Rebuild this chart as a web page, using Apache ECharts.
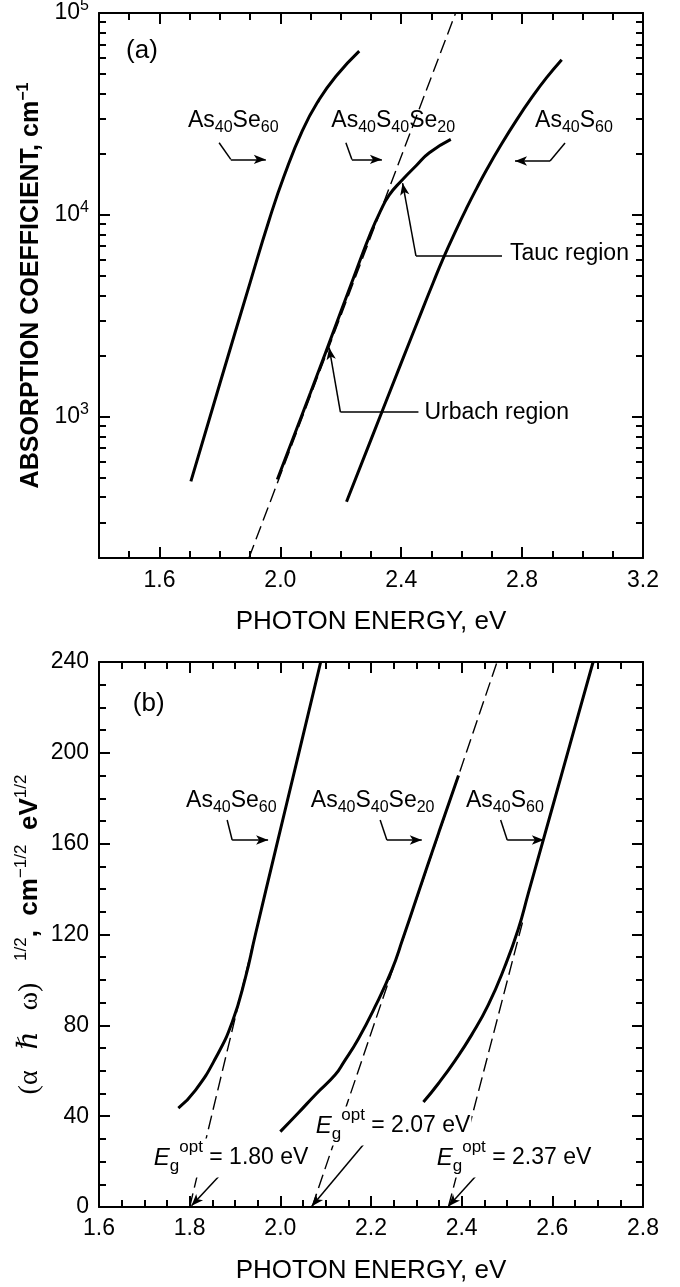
<!DOCTYPE html>
<html><head><meta charset="utf-8">
<script src="https://cdn.jsdelivr.net/npm/echarts@6/dist/echarts.min.js"></script>
<style>html,body{margin:0;padding:0;background:#fff}#c{width:680px;height:1287px}</style>
</head><body><div id="c"></div>
<script>
// ================= DATA =================
// Panel (a): absorption coefficient (cm^-1) vs photon energy (eV), log scale
const aXTickValues = [1.6, 2.0, 2.4, 2.8, 3.2];
const aYDecades = [1000, 10000, 100000];
const aYMinorTicks = [300, 400, 500, 600, 700, 800, 900,
  2000, 3000, 4000, 5000, 6000, 7000, 8000, 9000,
  20000, 30000, 40000, 50000, 60000, 70000, 80000, 90000];

const aSe60E     = [1.704, 1.80, 1.90, 1.963, 2.013, 2.073, 2.128, 2.184, 2.261];
const aSe60Alpha = [479, 1462, 4624, 9441, 15670, 26180, 37150, 48640, 64710];

const aSSeE     = [1.990, 2.10, 2.20, 2.25, 2.30, 2.33, 2.36, 2.40, 2.45, 2.493, 2.564];
const aSSeAlpha = [490, 1320, 3310, 5250, 8220, 10350, 12530, 14720, 17580, 20320, 23660];

const aS60E     = [2.219, 2.30, 2.40, 2.468, 2.506, 2.539, 2.583, 2.617, 2.650, 2.683, 2.727, 2.782, 2.837, 2.881, 2.931];
const aS60Alpha = [380, 771, 1850, 3340, 4630, 6100, 8510, 10860, 13580, 16790, 21830, 29580, 39080, 47860, 58750];

const aDashE     = [1.896, 2.58];
const aDashAlpha = [200, 100000];

// Panel (b): (alpha*hbar*omega)^1/2 vs photon energy
const bSe60E = [1.775, 1.813, 1.857, 1.894, 1.923, 1.945, 1.99, 2.04, 2.089];
const bSe60Y = [43.5, 51.5, 65.5, 81.5, 101, 120, 157.7, 199.2, 240];

const bSSeE = [2.000, 2.04, 2.08, 2.121, 2.14, 2.172, 2.209, 2.246, 2.27, 2.30, 2.35, 2.393];
const bSSeY = [33.2, 41.5, 50, 58.2, 63.8, 74, 88.2, 104.4, 118, 135.7, 165.2, 190];

const bS60E = [2.3156, 2.3487, 2.3854, 2.422, 2.4587, 2.4954, 2.5248, 2.5468, 2.5833, 2.6202, 2.6569, 2.6899];
const bS60Y = [46.2, 54.4, 64.5, 75.8, 89, 106, 122.3, 138, 164, 190.3, 216.5, 240];

const bDashSe60E = [1.80, 1.94],   bDashSe60Y = [0, 116.2];
const bDashSSeE  = [2.07, 2.478],  bDashSSeY  = [0, 240];
const bDashS60E  = [2.3707, 2.535], bDashS60Y = [0, 126];

const bEgLabels = ['1.80', '2.07', '2.37'];

// ================= CHART =================
const FONT = "'Liberation Sans', Arial, Helvetica, sans-serif";
const SERIF = "'Liberation Serif', 'DejaVu Serif', 'Times New Roman', serif";
const K = '#000';
const zip = (xs, ys) => xs.map((x, i) => [x, ys[i]]);

const rich = {
  m: {fontSize: 23, fontFamily: FONT, color: K, verticalAlign: 'middle'},
  s: {fontSize: 16, fontFamily: FONT, color: K, verticalAlign: 'middle', padding: [14, 0, 0, 0]},
  big: {fontSize: 26, fontFamily: FONT, color: K, verticalAlign: 'middle'},
  e: {fontSize: 24, fontFamily: FONT, fontStyle: 'italic', color: K, verticalAlign: 'middle'},
  g: {fontSize: 17, fontFamily: FONT, color: K, verticalAlign: 'middle', padding: [17, 0, 0, 0]},
  o: {fontSize: 17, fontFamily: FONT, color: K, verticalAlign: 'middle', padding: [0, 0, 22, 0]}
};
const txt = (coord, text, bg) => ({
  coord, symbol: 'circle', symbolSize: 1, itemStyle: {color: 'rgba(0,0,0,0)'},
  label: {show: true, position: 'right', distance: 0, formatter: text, rich,
    backgroundColor: bg ? '#fff' : 'transparent', padding: bg ? [0, 1, 0, 1] : 0}
});
const seg = (p1, p2, arrow) => [{coord: p1, symbol: 'none'}, {coord: p2, symbol: arrow ? 'arrow' : 'none'}];

const MAJ = 11, MIN = 7;
const tickLine = {color: K, width: 2};
const minorLine = {color: K, width: 2};
const axisLine = {show: true, onZero: false, lineStyle: {color: K, width: 2}};
const noLine = {show: false, onZero: false};
const labelBase = {show: true, color: K, fontFamily: FONT, fontSize: 23};
const yMinorLog = aYMinorTicks.map(v => Math.log10(v));
const aYMin = 200, aYMax = 100000;

const xAxis = [
  // grid 0 : panel (a) major ticks
  {type: 'value', gridIndex: 0, position: 'bottom', min: 1.4, max: 3.2,
   axisLine, splitLine: {show: false},
   axisTick: {show: true, inside: true, length: MAJ, customValues: aXTickValues, lineStyle: tickLine},
   axisLabel: Object.assign({}, labelBase, {customValues: aXTickValues, margin: 11, formatter: v => v.toFixed(1)}),
   name: 'PHOTON ENERGY, eV', nameLocation: 'middle', nameGap: 51, nameMoveOverlap: false,
   nameTextStyle: {fontSize: 26, fontFamily: FONT, color: K}},
  {type: 'value', gridIndex: 0, position: 'top', min: 1.4, max: 3.2,
   axisLine, splitLine: {show: false}, axisLabel: {show: false},
   axisTick: {show: true, inside: true, length: MAJ, customValues: aXTickValues, lineStyle: tickLine}},
  // grid 2 : panel (a) minor ticks (overlay)
  {type: 'value', gridIndex: 2, position: 'bottom', min: 1.4, max: 3.2, interval: 0.1,
   axisLine: noLine, splitLine: {show: false}, axisLabel: {show: false},
   axisTick: {show: true, inside: true, length: MIN, lineStyle: minorLine}},
  {type: 'value', gridIndex: 2, position: 'top', min: 1.4, max: 3.2, interval: 0.1,
   axisLine: noLine, splitLine: {show: false}, axisLabel: {show: false},
   axisTick: {show: true, inside: true, length: MIN, lineStyle: minorLine}},
  // grid 1 : panel (b)
  {type: 'value', gridIndex: 1, position: 'bottom', min: 1.6, max: 2.8, interval: 0.2,
   axisLine, splitLine: {show: false},
   axisTick: {show: true, inside: true, length: MAJ, lineStyle: tickLine},
   minorTick: {show: true, splitNumber: 4, length: MIN, lineStyle: minorLine},
   axisLabel: Object.assign({}, labelBase, {margin: 10, formatter: v => v.toFixed(1)}),
   name: 'PHOTON ENERGY, eV', nameLocation: 'middle', nameGap: 51, nameMoveOverlap: false,
   nameTextStyle: {fontSize: 26, fontFamily: FONT, color: K}},
  {type: 'value', gridIndex: 1, position: 'top', min: 1.6, max: 2.8, interval: 0.2,
   axisLine, splitLine: {show: false}, axisLabel: {show: false},
   axisTick: {show: true, inside: true, length: MAJ, lineStyle: tickLine},
   minorTick: {show: true, splitNumber: 4, length: MIN, lineStyle: minorLine}}
];

const decadeFmt = v => {
  const e = Math.log10(v), r = Math.round(e);
  return (Math.abs(e - r) < 1e-6 && aYDecades.indexOf(Math.pow(10, r)) >= 0) ? '10{sup|' + r + '}' : '';
};

const yAxis = [
  // grid 0
  {type: 'log', logBase: 10, gridIndex: 0, position: 'left', min: aYMin, max: aYMax,
   axisLine, splitLine: {show: false},
   axisTick: {show: true, inside: true, length: MAJ, lineStyle: tickLine},
   axisLabel: Object.assign({}, labelBase, {margin: 10, formatter: decadeFmt,
     rich: {sup: {fontSize: 16, fontFamily: FONT, color: K, verticalAlign: 'middle', padding: [0, 0, 14, 0]}}}),
   name: 'ABSORPTION COEFFICIENT, cm{sup|\u22121}', nameLocation: 'middle', nameGap: 52, nameMoveOverlap: false,
   nameTextStyle: {fontSize: 25, fontWeight: 'bold', fontFamily: FONT, color: K,
     rich: {sup: {fontSize: 16, fontWeight: 'bold', fontFamily: FONT, color: K, verticalAlign: 'middle', padding: [0, 0, 15, 0]}}}},
  {type: 'log', logBase: 10, gridIndex: 0, position: 'right', min: aYMin, max: aYMax,
   axisLine, splitLine: {show: false}, axisLabel: {show: false},
   axisTick: {show: true, inside: true, length: MAJ, lineStyle: tickLine}},
  // grid 2 (minor log ticks, in log10 units)
  {type: 'value', gridIndex: 2, position: 'left', min: Math.log10(aYMin), max: Math.log10(aYMax),
   axisLine: noLine, splitLine: {show: false}, axisLabel: {show: false},
   axisTick: {show: true, inside: true, length: MIN, customValues: yMinorLog, lineStyle: minorLine}},
  {type: 'value', gridIndex: 2, position: 'right', min: Math.log10(aYMin), max: Math.log10(aYMax),
   axisLine: noLine, splitLine: {show: false}, axisLabel: {show: false},
   axisTick: {show: true, inside: true, length: MIN, customValues: yMinorLog, lineStyle: minorLine}},
  // grid 1
  {type: 'value', gridIndex: 1, position: 'left', min: 0, max: 240, interval: 40,
   axisLine, splitLine: {show: false},
   axisTick: {show: true, inside: true, length: MAJ, lineStyle: tickLine},
   minorTick: {show: true, splitNumber: 4, length: MIN, lineStyle: minorLine},
   axisLabel: Object.assign({}, labelBase, {margin: 10}),
   name: '{g|(\u03B1   \u210F   \u03C9)}   {sup|1/2}{b|,  cm}{sup|\u22121/2}{b|  eV}{sup|1/2}',
   nameLocation: 'middle', nameGap: 53, nameMoveOverlap: false,
   nameTextStyle: {fontSize: 26, fontWeight: 'bold', fontFamily: FONT, color: K,
     rich: {
       g: {fontSize: 28, fontWeight: 'normal', fontFamily: SERIF, color: K, verticalAlign: 'middle'},
       b: {fontSize: 26, fontWeight: 'bold', fontFamily: FONT, color: K, verticalAlign: 'middle'},
       sup: {fontSize: 17, fontWeight: 'normal', fontFamily: FONT, color: K, verticalAlign: 'middle', padding: [0, 0, 16, 0]}
     }}},
  {type: 'value', gridIndex: 1, position: 'right', min: 0, max: 240, interval: 40,
   axisLine, splitLine: {show: false}, axisLabel: {show: false},
   axisTick: {show: true, inside: true, length: MAJ, lineStyle: tickLine},
   minorTick: {show: true, splitNumber: 4, length: MIN, lineStyle: minorLine}}
];

const solid = {color: K, width: 3};
const dashed = {color: K, width: 1.4, type: [14, 6]};
const markLineBase = {silent: true, animation: false, symbol: ['none', 'arrow'], symbolSize: [7, 12],
  lineStyle: {color: K, width: 1.5, type: 'solid'}, label: {show: false}, emphasis: {disabled: true}};
const curve = (xi, yi, xs, ys) => ({type: 'line', xAxisIndex: xi, yAxisIndex: yi, data: zip(xs, ys), smooth: 0.5,
  showSymbol: false, symbol: 'none', lineStyle: solid, silent: true, z: 3});

const series = [
  // ---- panel (a)
  {type: 'line', xAxisIndex: 0, yAxisIndex: 0, data: zip(aDashE, aDashAlpha), showSymbol: false, symbol: 'none',
   lineStyle: dashed, silent: true, z: 2,
   markPoint: {silent: true, animation: false, data: [
     txt([1.488, 65300], '{big|(a)}'),
     txt([1.6927, 29220], '{m|As}{s|40}{m|Se}{s|60}'),
     txt([2.1672, 29220], '{m|As}{s|40}{m|S}{s|40}{m|Se}{s|20}'),
     txt([2.8414, 29220], '{m|As}{s|40}{m|S}{s|60}'),
     txt([2.7583, 6437], '{m|Tauc region}'),
     txt([2.4752, 1054], '{m|Urbach region}')
   ]},
   markLine: Object.assign({}, markLineBase, {data: [
     seg([1.7974, 22770], [1.8361, 18830], false), seg([1.8361, 18830], [1.952, 18830], true),
     seg([2.2169, 22770], [2.2368, 18830], false), seg([2.2368, 18830], [2.3361, 18830], true),
     seg([2.942, 22690], [2.8924, 18490], false), seg([2.8924, 18490], [2.7765, 18490], true),
     seg([2.7334, 6270], [2.4487, 6270], false), seg([2.4487, 6270], [2.4046, 14360], true),
     seg([2.457, 1057], [2.1987, 1057], false), seg([2.1987, 1057], [2.1616, 2200], true)
   ]})},
  curve(0, 0, aSe60E, aSe60Alpha),
  curve(0, 0, aSSeE, aSSeAlpha),
  curve(0, 0, aS60E, aS60Alpha),
  // empty series binding the minor-tick overlay grid
  {type: 'line', xAxisIndex: 2, yAxisIndex: 2, data: [], silent: true},
  {type: 'line', xAxisIndex: 3, yAxisIndex: 3, data: [], silent: true},
  // ---- panel (b)
  {type: 'line', xAxisIndex: 4, yAxisIndex: 4, data: zip(bDashSe60E, bDashSe60Y), showSymbol: false, symbol: 'none',
   lineStyle: dashed, silent: true, z: 2,
   markPoint: {silent: true, animation: false, data: [
     txt([1.6735, 221.7], '{big|(b)}'),
     txt([1.7909, 178.8], '{m|As}{s|40}{m|Se}{s|60}'),
     txt([2.0661, 178.8], '{m|As}{s|40}{m|S}{s|40}{m|Se}{s|20}'),
     txt([2.4085, 178.8], '{m|As}{s|40}{m|S}{s|60}'),
     txt([1.7176, 21.6], '{e|E}{g|g}{o|opt}{m| = ' + bEgLabels[0] + ' eV}', true),
     txt([2.0749, 35.7], '{e|E}{g|g}{o|opt}{m| = ' + bEgLabels[1] + ' eV}', true),
     txt([2.3417, 21.6], '{e|E}{g|g}{o|opt}{m| = ' + bEgLabels[2] + ' eV}', true)
   ]},
   markLine: Object.assign({}, markLineBase, {data: [
     seg([1.8827, 170.4], [1.8937, 161.6], false), seg([1.8937, 161.6], [1.973, 161.6], true),
     seg([2.2202, 170.4], [2.235, 161.6], false), seg([2.235, 161.6], [2.312, 161.6], true),
     seg([2.486, 170.4], [2.5005, 161.6], false), seg([2.5005, 161.6], [2.5813, 161.6], true),
     seg([1.8856, 18.1], [1.804, 0.5], true),
     seg([2.1982, 31.0], [2.0694, 0.3], true),
     seg([2.4514, 18.1], [2.371, 0.3], true)
   ]})},
  {type: 'line', xAxisIndex: 4, yAxisIndex: 4, data: zip(bDashSSeE, bDashSSeY), showSymbol: false, symbol: 'none',
   lineStyle: dashed, silent: true, z: 2},
  {type: 'line', xAxisIndex: 4, yAxisIndex: 4, data: zip(bDashS60E, bDashS60Y), showSymbol: false, symbol: 'none',
   lineStyle: dashed, silent: true, z: 2},
  curve(4, 4, bSe60E, bSe60Y),
  curve(4, 4, bSSeE, bSSeY),
  curve(4, 4, bS60E, bS60Y)
];

const chart = echarts.init(document.getElementById('c'), null, {renderer: 'canvas'});
chart.setOption({
  animation: false,
  backgroundColor: '#fff',
  textStyle: {fontFamily: FONT, color: K},
  grid: [
    {left: 99, right: 37, top: 13, height: 545, containLabel: false, outerBoundsMode: 'none'},
    {left: 99, right: 37, top: 662, height: 545, containLabel: false, outerBoundsMode: 'none'},
    {left: 99, right: 37, top: 13, height: 545, containLabel: false, outerBoundsMode: 'none'}
  ],
  xAxis, yAxis, series
});
</script></body></html>
